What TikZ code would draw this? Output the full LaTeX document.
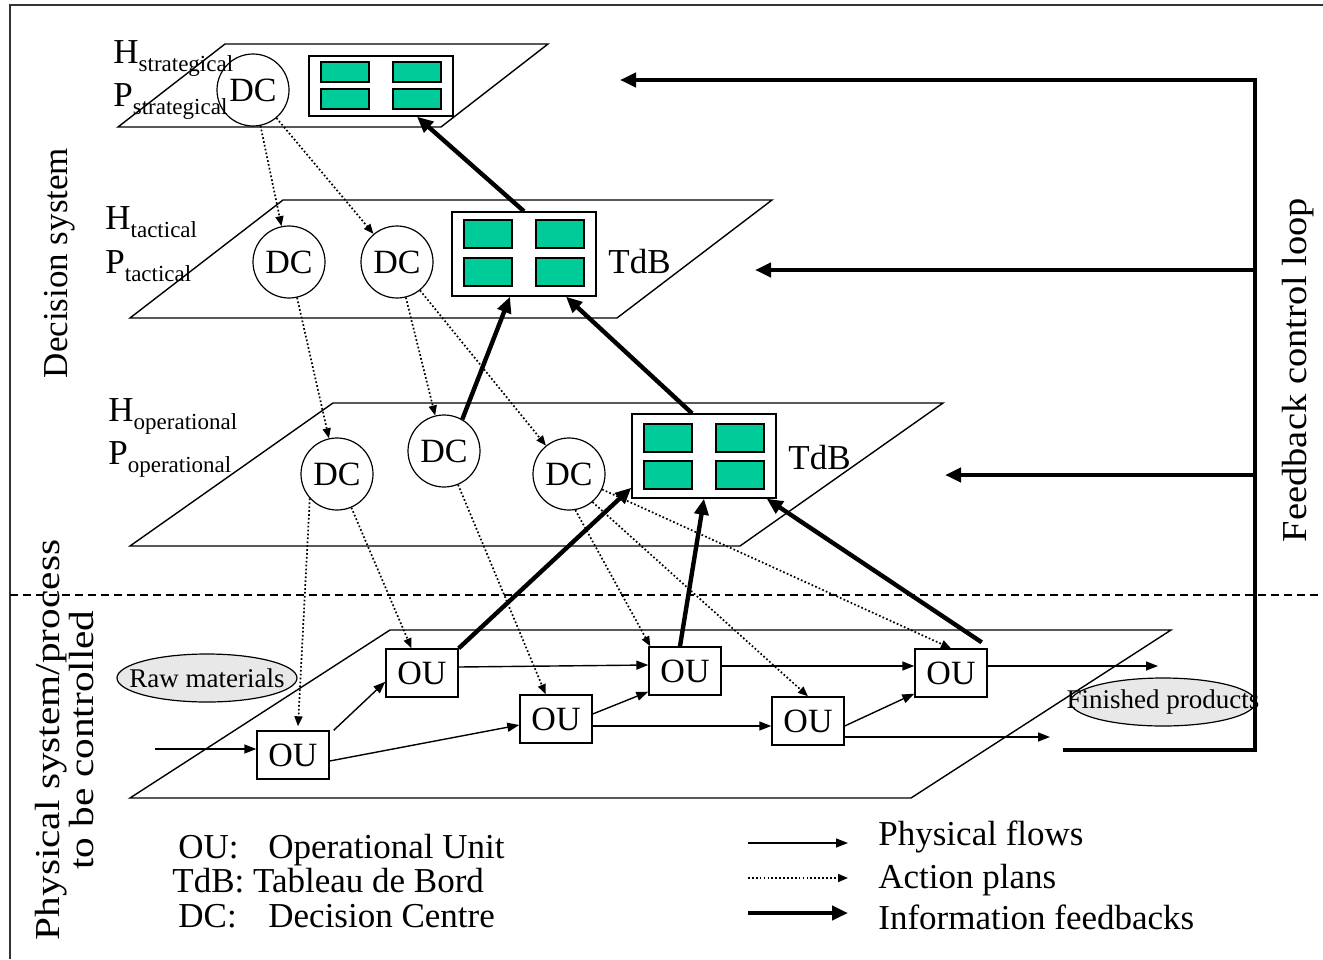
\documentclass[tikz,border=0pt]{standalone}
\usepackage{fontspec}
\setmainfont{Liberation Serif}
\usetikzlibrary{arrows.meta,shapes.geometric}
\definecolor{cellgreen}{RGB}{0,204,153}
\definecolor{stockgray}{RGB}{232,232,232}
% level label: letter with a lowered subscript word
\newcommand{\lvl}[2]{#1\raisebox{-4pt}{\fontsize{11.5}{13}\selectfont #2}}

\begin{document}
\begin{tikzpicture}[x=0.5pt, y=-0.5pt,
  txt/.style = {font=\fontsize{17.5}{21}\selectfont, inner sep=0pt},
  small/.style = {font=\fontsize{13.5}{16}\selectfont, inner sep=0pt},
  plane/.style = {draw, line width=0.7pt},
  dcnode/.style = {shape = circle,
                   draw,
                   line width=0.6pt,
                   minimum size=36pt,
                   inner sep=0pt,
                   font=\fontsize{17}{20}\selectfont},
  ounode/.style = {shape = rectangle,
                   draw, fill=white,
                   line width=0.7pt,
                   minimum width=36pt, minimum height=24pt,
                   inner sep=0pt,
                   font=\fontsize{17}{20}\selectfont},
  tdbnode/.style = {shape=rectangle, draw, fill=white, line width=0.7pt,
                    minimum width=72pt, inner sep=0pt},
  cell/.style = {shape=rectangle, draw, fill=cellgreen, line width=0.7pt,
                 minimum width=24pt, inner sep=0pt},
  stock/.style = {shape=ellipse, draw, fill=stockgray, line width=0.6pt,
                  minimum height=24pt, inner sep=0pt},
  flow/.style = {line width=0.7pt, -{Triangle[length=6pt,width=4.5pt]}},
  plan/.style = {line width=0.85pt, dash pattern=on 0.85pt off 1.1pt,
                 -{Triangle[length=5pt,width=4pt]}},
  feedback/.style = {line width=2.2pt, -{Triangle[length=8pt,width=7pt]}}]
	\useasboundingbox (0,0) rectangle (1323,959);
	\draw[line width=0.8pt, black!80] (10,959) -- (10,5) -- (1323,5);

	% planes
	\draw[plane] (225,44) -- (548,44) -- (441,127) -- (118,127) -- cycle;
	\draw[plane] (283,200) -- (772,200) -- (617,318) -- (130,318) -- cycle;
	\draw[plane] (333,403) -- (943,403) -- (740,546) -- (130,546) -- cycle;
	\draw[plane] (390,630) -- (1171,630) -- (911,798) -- (130,798) -- cycle;

	% separation decision / physical
	\coordinate (sepL) at (10,595);
	\coordinate (sepR) at (1323,595);
	\draw[line width=0.6pt, dash pattern=on 4pt off 2.5pt] (sepL) -- (sepR);

	% level labels
	\node[txt, anchor=base west] (hS) at (113,63) {\lvl{H}{strategical}};
	\node[txt, anchor=base west] (pS) at (113,106) {\lvl{P}{strategical}};
	\node[txt, anchor=base west] (hT) at (105,229) {\lvl{H}{tactical}};
	\node[txt, anchor=base west] (pT) at (105,273) {\lvl{P}{tactical}};
	\node[txt, anchor=base west] (hO) at (108,421) {\lvl{H}{operational}};
	\node[txt, anchor=base west] (pO) at (108,464) {\lvl{P}{operational}};

	% decision centres
	\node[dcnode] (dcS) at (253,90) {DC};
	\node[dcnode] (dcT1) at (289,262) {DC};
	\node[dcnode] (dcT2) at (397,262) {DC};
	\node[dcnode] (dcO1) at (337,474) {DC};
	\node[dcnode] (dcO2) at (444,451) {DC};
	\node[dcnode] (dcO3) at (569,474) {DC};

	% tableaux de bord
	\node[tdbnode, minimum height=30pt] (tdbS) at (381,86) {};
	\foreach \cx/\cy [count=\i] in {345/72, 417/72, 345/99, 417/99}
		\node[cell, minimum height=10pt] (cellS\i) at (\cx,\cy) {};
	\node[tdbnode, minimum height=42pt] (tdbT) at (524,254) {};
	\foreach \cx/\cy [count=\i] in {488/234, 560/234, 488/272, 560/272}
		\node[cell, minimum height=14pt] (cellT\i) at (\cx,\cy) {};
	\node[txt, anchor=west] (tdbTlab) at (608,262) {TdB};
	\node[tdbnode, minimum height=42pt] (tdbO) at (704,456) {};
	\foreach \cx/\cy [count=\i] in {668/438, 740/438, 668/475, 740/475}
		\node[cell, minimum height=14pt] (cellO\i) at (\cx,\cy) {};
	\node[txt, anchor=west] (tdbOlab) at (788,458) {TdB};

	% operational units
	\node[ounode] (ou1) at (293,755) {OU};
	\node[ounode] (ou2) at (422,673) {OU};
	\node[ounode] (ou3) at (556,719) {OU};
	\node[ounode] (ou4) at (685,671) {OU};
	\node[ounode] (ou5) at (808,721) {OU};
	\node[ounode] (ou6) at (951,673) {OU};

	% stocks
	\node[stock, minimum width=90pt] (raw) at (207,678) {};
	\node[small] (rawlab) at (raw) {Raw materials};
	\node[stock, minimum width=92.5pt] (fin) at (1163,702) {};
	\node[small] (finlab) at (fin) {Finished products};

	% action plans
	\draw[plan] (dcS) -- (dcT1);
	\draw[plan] (dcS) -- (dcT2);
	\draw[plan] (dcT1) -- (dcO1);
	\draw[plan] (dcT2) -- (dcO2);
	\draw[plan] (dcT2) -- (dcO3);
	\draw[plan] (dcO1.222) -- ([xshift=2.5pt,yshift=2pt]ou1.north);
	\draw[plan] (dcO1) -- (ou2);
	\draw[plan] (dcO2) -- (ou3);
	\draw[plan] (dcO3.-80) -- ([xshift=1pt]ou4.north west);
	\draw[plan] (dcO3.-50) -- (ou5.north);
	\draw[plan] (dcO3.-25) -- (ou6.north);

	% physical flows
	\coordinate (inA) at (155,749);
	\coordinate (outA) at (1158,666);
	\coordinate (outB) at (1050,737);
	\draw[flow] (inA) -- (inA -| ou1.west);
	\draw[flow] ([xshift=2pt]ou1.north east) -- ([yshift=8pt]ou2.south west);
	\draw[flow] ([yshift=-3pt]ou1.east) -- ([yshift=-3pt]ou3.west);
	\draw[flow] ([yshift=3pt]ou2.east) -- ([yshift=3pt]ou4.west);
	\draw[flow] ([yshift=2.5pt]ou3.east) -- ([yshift=2pt]ou4.south west);
	\draw[flow] ([yshift=-3.5pt]ou3.east) -- ([yshift=-2.5pt]ou5.west);
	\draw[flow] ([yshift=2.5pt]ou4.east) -- ([yshift=3.5pt]ou6.west);
	\draw[flow] ([yshift=-2.5pt]ou5.east) -- ([yshift=2pt]ou6.south west);
	\draw[flow] ([yshift=-8pt]ou5.east) -- (outB);
	\draw[flow] ([yshift=3.5pt]ou6.east) -- (outA);

	% information feedbacks
	\draw[feedback] (ou2.north east) -- ([yshift=5.5pt]tdbO.south west);
	\draw[feedback] ([xshift=-2.5pt]ou4.north) -- (tdbO.south);
	\draw[feedback] ([shift={(-3pt,3pt)}]ou6.north east) -- ([xshift=-5pt]tdbO.south east);
	\draw[feedback] (dcO2.60) -- ([xshift=-7pt]tdbT.south);
	\draw[feedback] ([xshift=-6pt]tdbO.north) -- ([xshift=21pt]tdbT.south);
	\draw[feedback] (tdbT.north) -- ([xshift=18pt]tdbS.south);

	% feedback control loop
	\coordinate (fbStart) at (1063,750);
	\coordinate (fbBot) at (1255,750);
	\coordinate (fbTop) at (1255,80);
	\coordinate (fbS) at (620,80);
	\coordinate (fbT) at (755,270);
	\coordinate (fbO) at (945,475);
	\draw[feedback] (fbStart) -- (fbBot) -- (fbTop) -- (fbS);
	\draw[feedback] (fbT -| fbTop) -- (fbT);
	\draw[feedback] (fbO -| fbTop) -- (fbO);

	% side titles
	\node[txt, rotate=90] (decsys) at (60,263) {Decision system};
	\node[txt, rotate=90] (fbloop) at (1298,370) {\scalebox{1.1}[1]{Feedback control loop}};
	\node[txt, rotate=90, align=center, font=\fontsize{17.5}{17}\selectfont] (physys) at (65,740)
		{\scalebox{1.18}[1]{Physical system/process}\\\scalebox{1.18}[1]{to be controlled}};

	% legend
	\node[txt, anchor=base west] (lgOU) at (178,858) {OU:};
	\node[txt, anchor=base west] (lgOUt) at (268,858) {Operational Unit};
	\node[txt, anchor=base west] (lgTdB) at (172,892) {TdB: Tableau de Bord};
	\node[txt, anchor=base west] (lgDC) at (178,927) {DC:};
	\node[txt, anchor=base west] (lgDCt) at (268,927) {Decision Centre};
	\coordinate (lgA1) at (748,843);
	\coordinate (lgA2) at (848,843);
	\coordinate (lgB1) at (748,878);
	\coordinate (lgB2) at (848,878);
	\coordinate (lgC1) at (748,913);
	\coordinate (lgC2) at (848,913);
	\draw[flow] (lgA1) -- (lgA2);
	\draw[plan] (lgB1) -- (lgB2);
	\draw[feedback] (lgC1) -- (lgC2);
	\node[txt, anchor=base west] (lgFlow) at (878,845) {Physical flows};
	\node[txt, anchor=base west] (lgPlan) at (878,888) {Action plans};
	\node[txt, anchor=base west] (lgInfo) at (878,929) {Information feedbacks};
\end{tikzpicture}
\end{document}
